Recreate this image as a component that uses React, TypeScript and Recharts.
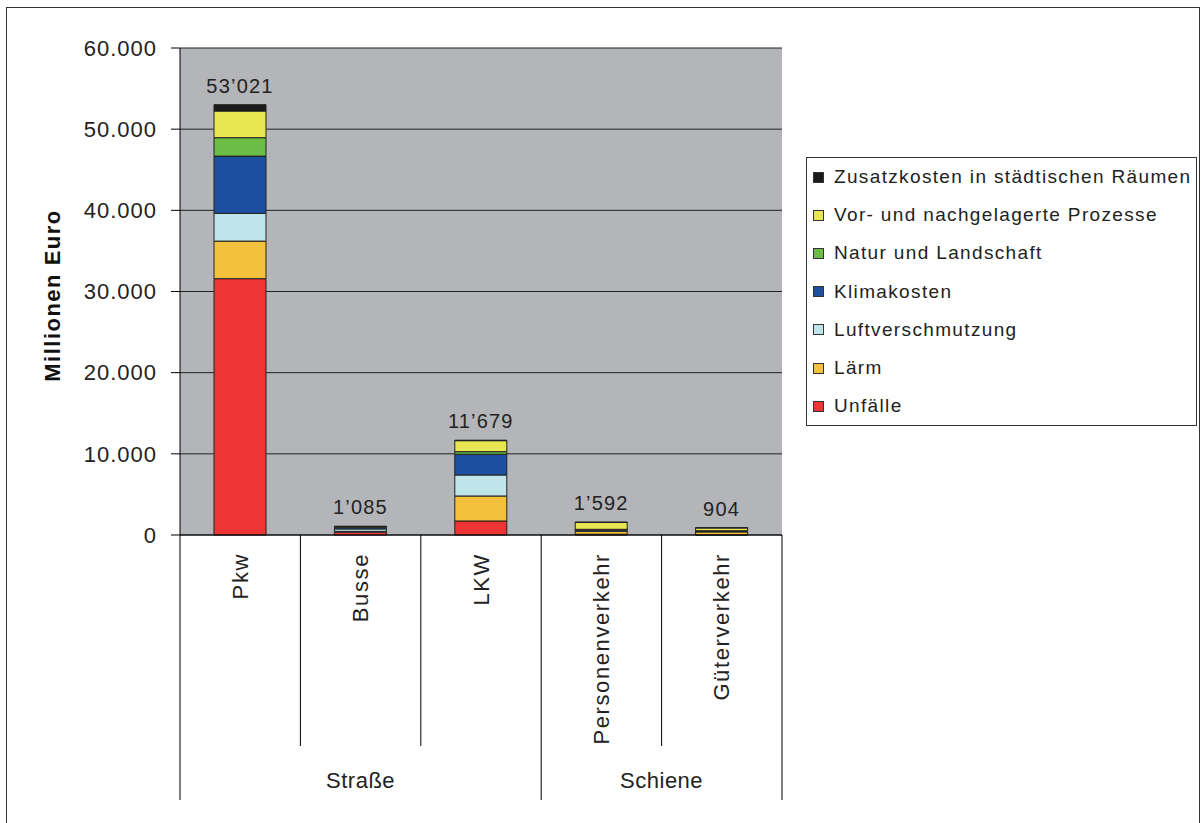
import React from 'react';
import { BarChart, Bar, XAxis, YAxis, CartesianGrid, LabelList } from 'recharts';

const FONT = "'Liberation Sans', Arial, sans-serif";

const categories = ['Pkw', 'Busse', 'LKW', 'Personenverkehr', 'Güterverkehr'];
const groupLabels = ['Straße', 'Schiene'];
const groupSizes = [3, 2];

const unfaelle = [31580, 350, 1725, 100, 30];
const laerm = [4630, 100, 3080, 350, 350];
const luft = [3410, 300, 2590, 150, 80];
const klima = [7060, 200, 2550, 80, 60];
const natur = [2270, 20, 320, 20, 10];
const vorNach = [3280, 60, 1355, 850, 340];
const zusatz = [791, 55, 59, 42, 34];
const totals = [53021, 1085, 11679, 1592, 904];

const yTicks = [0, 10000, 20000, 30000, 40000, 50000, 60000];

const series = [
  { key: 'unfaelle', name: 'Unfälle', color: '#EE3535', values: unfaelle },
  { key: 'laerm', name: 'Lärm', color: '#F3C13C', values: laerm },
  { key: 'luft', name: 'Luftverschmutzung', color: '#BFE4E9', values: luft },
  { key: 'klima', name: 'Klimakosten', color: '#1D4F9F', values: klima },
  { key: 'natur', name: 'Natur und Landschaft', color: '#6BBD46', values: natur },
  { key: 'vor', name: 'Vor- und nachgelagerte Prozesse', color: '#E8E653', values: vorNach },
  { key: 'zusatz', name: 'Zusatzkosten in städtischen Räumen', color: '#1A1A1A', values: zusatz },
];

const data = categories.map((c, i) => {
  const row: any = { name: c, total: totals[i] };
  series.forEach((s) => { row[s.key] = s.values[i]; });
  return row;
});

const fmtY = (v: number) => {
  if (v === 0) return '0';
  const th = Math.floor(v / 1000);
  return `${th}.${String(v % 1000).padStart(3, '0')}`;
};
const fmtTotal = (v: number) => {
  if (v < 1000) return String(v);
  return `${Math.floor(v / 1000)}’${String(v % 1000).padStart(3, '0')}`;
};

const groupStart = (idx: number) => {
  let s = 0;
  for (let g = 0; g < groupSizes.length; g++) {
    if (idx === s) return g;
    s += groupSizes[g];
  }
  return -1;
};

const CatTick = (props: any) => {
  const { x, y, payload, index } = props;
  const half = payload && payload.offset ? payload.offset : 60;
  const n = categories.length;
  const g = groupStart(index);
  const shortLen = 211;
  const longLen = 265;
  const els: any[] = [];
  const left = x - half;
  els.push(
    <line key="l" x1={left} x2={left} y1={y} y2={y + (g >= 0 ? longLen : shortLen)} stroke="#000" strokeWidth={1} />
  );
  if (index === n - 1) {
    els.push(<line key="r" x1={x + half} x2={x + half} y1={y} y2={y + longLen} stroke="#000" strokeWidth={1} />);
  }
  if (g >= 0) {
    const cx = left + groupSizes[g] * half;
    els.push(
      <text key="g" x={cx} y={y + 245} textAnchor="middle" dominantBaseline="central" fontFamily={FONT} fontSize={22} letterSpacing={0.5} fill="#222">
        {groupLabels[g]}
      </text>
    );
  }
  const ty = y + 18;
  els.push(
    <text key="t" x={x} y={ty} transform={`rotate(-90, ${x}, ${ty})`} textAnchor="end" dominantBaseline="central" fontFamily={FONT} fontSize={22} letterSpacing={1.6} fill="#222">
      {payload.value}
    </text>
  );
  return <g>{els}</g>;
};

const LegendBox = () => {
  const items = series.slice().reverse();
  return (
    <div style={{ position: 'absolute', left: 806, top: 157, width: 389, height: 267, border: '1px solid #333', background: '#fff' }}>
      {items.map((p, i) => (
        <div key={p.key} style={{ position: 'absolute', left: 6, top: 19 + i * 38.2 - 12, height: 24, display: 'flex', alignItems: 'center' }}>
          <div style={{ width: 9, height: 9, background: p.color, border: '1px solid #333', marginRight: 10 }} />
          <span style={{ fontFamily: FONT, fontSize: 19, letterSpacing: 1.35, color: '#222', whiteSpace: 'nowrap' }}>{p.name}</span>
        </div>
      ))}
    </div>
  );
};

const YLabel = (props: any) => {
  const vb = props.viewBox || { x: 40, y: 48, width: 140, height: 487 };
  const x = vb.x + 12;
  const y = vb.y + vb.height / 2 + 4;
  return (
    <text x={x} y={y} transform={`rotate(-90, ${x}, ${y})`} textAnchor="middle" dominantBaseline="central" fontFamily={FONT} fontSize={22} fontWeight="bold" letterSpacing={1.5} fill="#111">
      Millionen Euro
    </text>
  );
};

export default function App() {
  return (
    <div style={{ position: 'absolute', left: 0, top: 0, width: 1201, height: 823, overflow: 'hidden', background: '#fff' }}>
      <div style={{ position: 'absolute', left: 6, top: 7, width: 1192, height: 900, border: '1px solid #333' }} />
      <div style={{ position: 'absolute', left: 0, top: 0 }}>
        <BarChart width={1201} height={823} data={data} margin={{ top: 48, right: 419, bottom: 18, left: 40 }} barSize={52}>
          <CartesianGrid vertical={false} stroke="#222" strokeOpacity={1} fill="#B4B5B9" fillOpacity={1} />
          <XAxis
            dataKey="name"
            height={270}
            interval={0}
            axisLine={{ stroke: '#000' }}
            tickLine={false}
            tickSize={0}
            tickMargin={0}
            tick={<CatTick />}
          />
          <YAxis
            width={140}
            domain={[0, 60000]}
            ticks={yTicks}
            tickFormatter={fmtY}
            tickSize={9}
            tickMargin={14}
            axisLine={{ stroke: '#000' }}
            tickLine={{ stroke: '#000' }}
            tick={{ fill: '#222', fontSize: 22, fontFamily: FONT, letterSpacing: 1 }}
            label={<YLabel />}
          />
          {series.map((s, si) => (
            <Bar key={s.key} dataKey={s.key} name={s.name} stackId="a" fill={s.color} stroke="#222" strokeWidth={1} isAnimationActive={false}>
              {si === series.length - 1 ? (
                <LabelList dataKey="total" position="top" offset={12} formatter={(v: any) => fmtTotal(Number(v))} style={{ fontFamily: FONT, fontSize: 20, letterSpacing: 1.2, fill: '#222' }} />
              ) : null}
            </Bar>
          ))}
        </BarChart>
      </div>
      <LegendBox />
    </div>
  );
}
